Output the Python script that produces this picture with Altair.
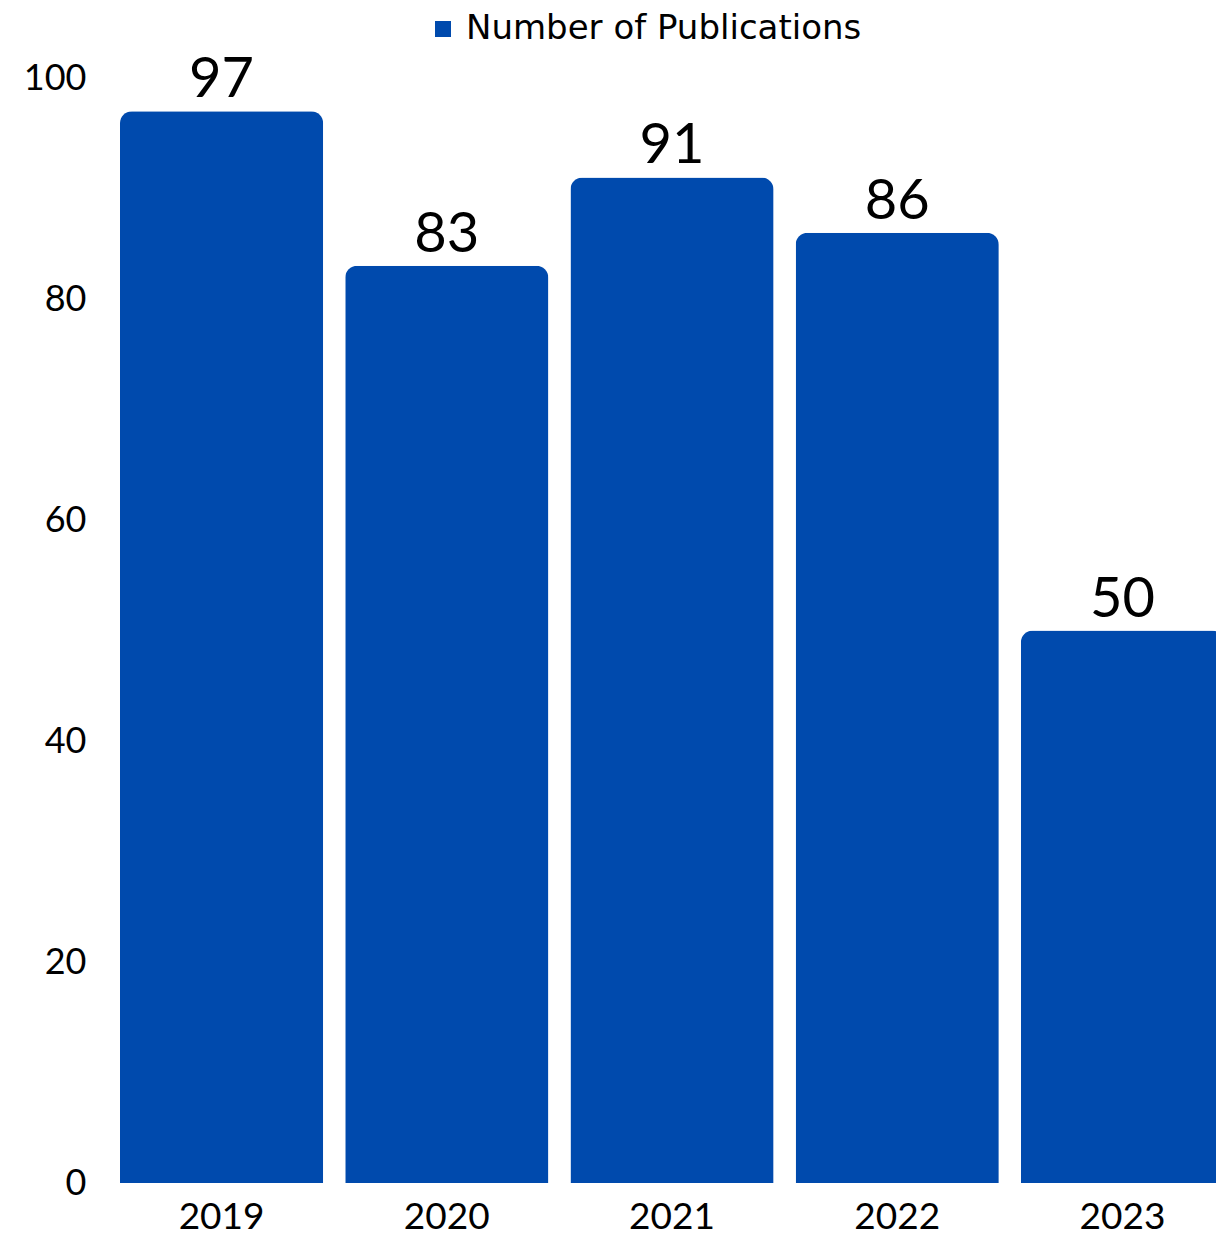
import altair as alt
import pandas as pd

years = ["2019", "2020", "2021", "2022", "2023"]
publications = [97, 83, 91, 86, 50]
series_name = "Number of Publications"
y_ticks = [0, 20, 40, 60, 80, 100]

df = pd.DataFrame({"year": years, "count": publications, "series": [series_name] * len(years)})

FONT = "Lato"
BLUE = "#004AAD"

x = alt.X(
    "year:N",
    sort=years,
    title=None,
    scale=alt.Scale(paddingInner=0.098, paddingOuter=0, range=[0, 1104]),
    axis=alt.Axis(labelAngle=0, labelFontSize=37, labelColor="black", labelFont=FONT,
                  ticks=False, tickSize=0, domain=False, grid=False, labelPadding=16),
)
y = alt.Y(
    "count:Q",
    title=None,
    scale=alt.Scale(domain=[0, 100], nice=False),
    axis=alt.Axis(values=y_ticks, labelFontSize=36, labelColor="black", labelFont=FONT,
                  ticks=False, tickSize=0, domain=False, grid=False, labelPadding=34),
)

bars = alt.Chart(df).mark_bar(cornerRadiusTopLeft=12, cornerRadiusTopRight=12).encode(
    x=x,
    y=y,
    color=alt.Color(
        "series:N",
        scale=alt.Scale(domain=[series_name], range=[BLUE]),
        legend=alt.Legend(
            title=None, orient="none", legendX=306, legendY=-66,
            symbolType="square", symbolSize=256, symbolStrokeWidth=0,
            labelFontSize=34, labelFont="DejaVu Sans", labelColor="black", labelOffset=6,
            labelLimit=700,
        ),
    ),
)

labels = alt.Chart(df).mark_text(
    baseline="alphabetic", dy=-14, fontSize=56, font=FONT, color="black"
).encode(x=alt.X("year:N", sort=years), y="count:Q", text="count:Q")

chart = alt.layer(bars, labels).properties(
    width=1096, height=1105,
    background="white",
    autosize=alt.AutoSizeParams(type="none"),
    padding={"left": 112, "top": 70, "right": 0, "bottom": 56},
).configure_view(strokeWidth=0, stroke="transparent")

chart.save("out.html", embed_options={"renderer": "svg", "actions": False})
